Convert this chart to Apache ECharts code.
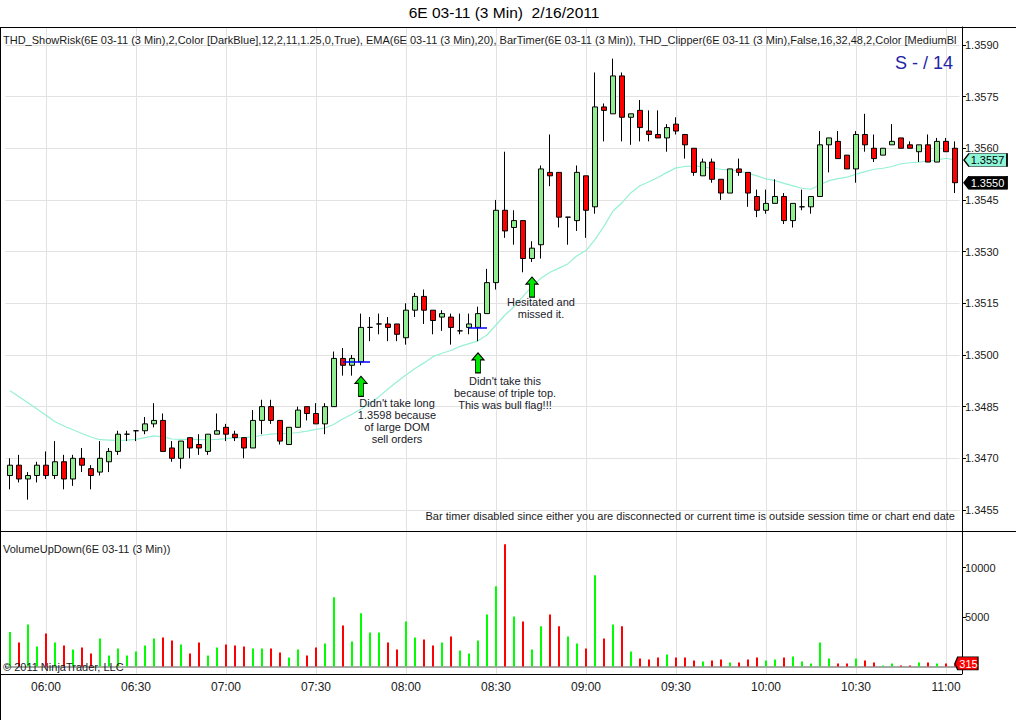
<!DOCTYPE html>
<html><head><meta charset="utf-8">
<script src="https://cdn.jsdelivr.net/npm/echarts@6/dist/echarts.min.js"></script>
<style>html,body{margin:0;padding:0;background:#fff}#c{width:1016px;height:720px}</style>
</head><body><div id="c"></div>
<script>
const times = ['05:48','05:51','05:54','05:57',
'06:00','06:03','06:06','06:09','06:12','06:15','06:18','06:21','06:24','06:27',
'06:30','06:33','06:36','06:39','06:42','06:45','06:48','06:51','06:54','06:57',
'07:00','07:03','07:06','07:09','07:12','07:15','07:18','07:21','07:24','07:27',
'07:30','07:33','07:36','07:39','07:42','07:45','07:48','07:51','07:54','07:57',
'08:00','08:03','08:06','08:09','08:12','08:15','08:18','08:21','08:24','08:27',
'08:30','08:33','08:36','08:39','08:42','08:45','08:48','08:51','08:54','08:57',
'09:00','09:03','09:06','09:09','09:12','09:15','09:18','09:21','09:24','09:27',
'09:30','09:33','09:36','09:39','09:42','09:45','09:48','09:51','09:54','09:57',
'10:00','10:03','10:06','10:09','10:12','10:15','10:18','10:21','10:24','10:27',
'10:30','10:33','10:36','10:39','10:42','10:45','10:48','10:51','10:54','10:57',
'11:00','11:03'];
const opens = [1.3465,1.3468,1.3464,1.3465,1.3468,1.3465,1.3469,1.3464,1.3470,1.3467,
1.3466,1.3469,1.3472,1.3477,1.3478,1.3478,1.3480,1.3481,1.3473,1.3470,
1.3476,1.3474,1.3472,1.3477,1.3479,1.3477,1.3476,1.3473,1.3481,1.3485,
1.3481,1.3474,1.3479,1.3485,1.3483,1.3480,1.3485,1.3499,1.3497,1.3498,
1.3508,1.3509,1.3509,1.3509,1.3505,1.3513,1.3517,1.3513,1.3511,1.3511,
1.3507,1.3508,1.3508,1.3512,1.3521,1.3542,1.3537,1.3539,1.3528,1.3532,
1.3553,1.3553,1.3540,1.3539,1.3552,1.3543,1.3572,1.3570,1.3581,1.3569,
1.3571,1.3565,1.3564,1.3563,1.3567,1.3564,1.3560,1.3552,1.3556,1.3551,
1.3547,1.3554,1.3553,1.3546,1.3542,1.3544,1.3546,1.3539,1.3543,1.3543,
1.3546,1.3561,1.3562,1.3558,1.3554,1.3564,1.3560,1.3558,1.3561,1.3563,
1.3561,1.3559,1.3561,1.3556,1.3562,1.3560];
const highs = [1.3470,1.3471,1.3466,1.3469,1.3472,1.3475,1.3471,1.3471,1.3473,1.3468,
1.3475,1.3473,1.3478,1.3478,1.3478,1.3482,1.3486,1.3483,1.3475,1.3475,
1.3476,1.3477,1.3477,1.3483,1.3480,1.3478,1.3476,1.3484,1.3487,1.3487,
1.3481,1.3479,1.3485,1.3485,1.3486,1.3486,1.3501,1.3502,1.3500,1.3512,
1.3511,1.3512,1.3511,1.3509,1.3515,1.3518,1.3519,1.3513,1.3513,1.3512,
1.3512,1.3512,1.3514,1.3525,1.3545,1.3559,1.3542,1.3539,1.3533,1.3555,
1.3564,1.3553,1.3540,1.3555,1.3552,1.3582,1.3573,1.3586,1.3582,1.3570,
1.3574,1.3571,1.3571,1.3567,1.3569,1.3564,1.3560,1.3557,1.3557,1.3551,
1.3554,1.3557,1.3553,1.3548,1.3548,1.3551,1.3547,1.3544,1.3548,1.3546,
1.3565,1.3563,1.3565,1.3558,1.3565,1.3570,1.3564,1.3560,1.3567,1.3563,
1.3562,1.3561,1.3564,1.3563,1.3563,1.3562];
const lows = [1.3461,1.3463,1.3458,1.3463,1.3464,1.3464,1.3461,1.3462,1.3466,1.3461,
1.3465,1.3466,1.3471,1.3475,1.3475,1.3477,1.3479,1.3472,1.3469,1.3467,
1.3470,1.3471,1.3471,1.3477,1.3475,1.3475,1.3470,1.3473,1.3477,1.3480,
1.3474,1.3474,1.3479,1.3481,1.3480,1.3477,1.3485,1.3494,1.3494,1.3497,
1.3504,1.3506,1.3504,1.3504,1.3503,1.3511,1.3509,1.3506,1.3507,1.3503,
1.3506,1.3506,1.3504,1.3512,1.3519,1.3534,1.3532,1.3524,1.3527,1.3528,
1.3549,1.3537,1.3532,1.3536,1.3534,1.3541,1.3562,1.3570,1.3562,1.3561,
1.3562,1.3562,1.3563,1.3559,1.3564,1.3557,1.3552,1.3552,1.3550,1.3545,
1.3547,1.3552,1.3543,1.3540,1.3541,1.3544,1.3538,1.3537,1.3542,1.3541,
1.3546,1.3553,1.3557,1.3554,1.3550,1.3559,1.3556,1.3558,1.3561,1.3560,
1.3560,1.3556,1.3556,1.3556,1.3559,1.3547];
const closes = [1.3468,1.3464,1.3465,1.3468,1.3465,1.3469,1.3464,1.3470,1.3468,1.3465,
1.3470,1.3472,1.3477,1.3477,1.3478,1.3480,1.3481,1.3472,1.3470,1.3475,
1.3473,1.3473,1.3477,1.3478,1.3477,1.3476,1.3473,1.3481,1.3485,1.3481,
1.3475,1.3479,1.3484,1.3483,1.3480,1.3485,1.3499,1.3497,1.3499,1.3508,
1.3508,1.3509,1.3508,1.3506,1.3513,1.3517,1.3513,1.3510,1.3512,1.3508,
1.3507,1.3509,1.3512,1.3521,1.3542,1.3536,1.3539,1.3528,1.3531,1.3554,
1.3552,1.3540,1.3540,1.3553,1.3542,1.3572,1.3571,1.3581,1.3569,1.3570,
1.3566,1.3564,1.3563,1.3566,1.3565,1.3561,1.3553,1.3556,1.3551,1.3547,
1.3554,1.3553,1.3547,1.3542,1.3544,1.3546,1.3539,1.3544,1.3543,1.3546,
1.3561,1.3563,1.3557,1.3554,1.3564,1.3561,1.3557,1.3560,1.3562,1.3560,
1.3560,1.3561,1.3556,1.3562,1.3559,1.3550];
const volumes = [3480,2430,4260,2030,3350,2430,2130,1720,1930,1320,
2840,1120,1830,1120,1520,2130,2840,2940,2640,2230,
1320,2430,1120,1930,2230,2130,2030,1830,1830,1830,
1420,910,1720,1120,1930,2330,7000,4160,2540,5380,
3450,3450,2430,1720,4560,2940,2740,2130,2430,3040,
1620,1320,2640,5270,8110,12370,5070,4560,1720,4060,
5270,4060,3040,2330,1830,9230,2840,4260,4060,1520,
810,710,910,1220,910,910,610,510,610,710,
400,400,710,910,610,710,910,1010,510,300,
2430,810,300,300,810,610,400,100,300,100,
100,400,400,300,300,315];
const ema20 = [1.34896,1.34879,1.34861,1.34843,1.34825,1.34806,1.34794,1.34783,1.34772,1.34762,
1.34754,1.34753,1.34752,1.34753,1.34755,1.34760,1.34765,1.34762,1.34756,1.34755,
1.34755,1.34754,1.34754,1.34755,1.34757,1.34760,1.34760,1.34762,1.34767,1.34770,
1.34772,1.34772,1.34775,1.34779,1.34784,1.34788,1.34799,1.34815,1.34828,1.34843,
1.34860,1.34879,1.34901,1.34922,1.34942,1.34961,1.34977,1.34995,1.35005,1.35013,
1.35025,1.35033,1.35041,1.35058,1.35087,1.35116,1.35140,1.35170,1.35199,1.35223,
1.35240,1.35252,1.35265,1.35288,1.35303,1.35335,1.35374,1.35418,1.35442,1.35471,
1.35491,1.35503,1.35515,1.35530,1.35543,1.35547,1.35549,1.35546,1.35542,1.35539,
1.35537,1.35534,1.35527,1.35520,1.35511,1.35506,1.35498,1.35491,1.35484,1.35481,
1.35494,1.35506,1.35512,1.35516,1.35525,1.35532,1.35539,1.35542,1.35547,1.35555,
1.35558,1.35560,1.35563,1.35566,1.35571,1.35566];
const priceTicks = [1.3455,1.3470,1.3485,1.3500,1.3515,1.3530,1.3545,1.3560,1.3575,1.3590];
const volumeTicks = [5000,10000];
const gridTimes = ['06:00','06:30','07:00','07:30','08:00','08:30','09:00','09:30','10:00','10:30','11:00'];
const riskLines = [
  {from:'07:39', to:'07:48', price:1.3498},
  {from:'08:21', to:'08:27', price:1.3508}
];
const arrows = [
  {time:'07:45', price:1.34909},
  {time:'08:24', price:1.34977},
  {time:'08:42', price:1.35197}
];
const notes = [
  {time:'07:57', price:1.34808, text:"Didn't take long\n1.3598 because\nof large DOM\nsell orders"},
  {time:'08:33', price:1.34891, text:"Didn't take this\nbecause of triple top.\nThis was bull flag!!!"},
  {time:'08:45', price:1.35136, text:"Hesitated and\nmissed it."}
];
const titleText = '6E 03-11 (3 Min)  2/16/2011';
const indicatorText = 'THD_ShowRisk(6E 03-11 (3 Min),2,Color [DarkBlue],12,2,11,1.25,0,True), EMA(6E 03-11 (3 Min),20), BarTimer(6E 03-11 (3 Min)), THD_Clipper(6E 03-11 (3 Min),False,16,32,48,2,Color [MediumBlue])';

const FONT = '"Liberation Sans", Arial, sans-serif';
const chart = echarts.init(document.getElementById('c'), null, {renderer:'svg', width:1016, height:720});
const isHalfHour = (i, v) => v.slice(3) === '00' || v.slice(3) === '30';
const candleData = times.map((t, i) => [opens[i], closes[i], lows[i], highs[i]]);
const volData = volumes.map((v, i) => ({value:v, itemStyle:{color: closes[i] >= opens[i] ? '#00ff00' : '#ff0000'}}));
const lastTime = times[times.length - 1];
const lastEma = ema20[ema20.length - 1];
const lastClose = closes[closes.length - 1];
const lastVol = volumes[volumes.length - 1];
const arrowPath = 'path://M6,0 L12,7 L8.5,7 L8.5,20 L3.5,20 L3.5,7 L0,7 Z';
const tagPath = 'path://M0,6.5 L5,0 L43,0 L43,13 L5,13 Z';
const gridColor = '#e2e2e2';

function tag(value, text, fill, textColor, size, offsetX) {
  return {coord:[lastTime, value], symbol:tagPath, symbolSize:size, symbolKeepAspect:false,
    symbolOffset:[offsetX, 0],
    itemStyle:{color:fill, borderColor:'#000', borderWidth:1},
    label:{show:true, position:'inside', offset:[2, 0.5], formatter:text, color:textColor,
      fontSize:11, fontFamily:FONT}};
}

const option = {
  animation:false,
  backgroundColor:'#fff',
  textStyle:{fontFamily:FONT},
  grid:[
    {left:5.5, right:56.5, top:27, height:504},
    {left:5.5, right:56.5, top:532, height:142}
  ],
  xAxis:[
    {type:'category', gridIndex:0, data:times, boundaryGap:true,
     axisLine:{show:false}, axisTick:{show:false}, axisLabel:{show:false}, splitLine:{show:false}},
    {type:'category', gridIndex:1, data:times, boundaryGap:true,
     axisLine:{show:true, lineStyle:{color:'#000', width:1}},
     axisTick:{show:true, alignWithLabel:true, interval:isHalfHour, length:4, lineStyle:{color:'#000'}},
     axisLabel:{interval:isHalfHour, color:'#1a1a1a', fontSize:12, margin:7, fontFamily:FONT},
     splitLine:{show:false}}
  ],
  yAxis:[
    {type:'value', gridIndex:0, position:'right', offset:2.5, min:1.34489, max:1.35952,
     axisLine:{show:true, lineStyle:{color:'#000', width:1}},
     axisTick:{show:true, length:4, customValues:priceTicks, lineStyle:{color:'#000'}},
     axisLabel:{customValues:priceTicks, formatter:v => v.toFixed(4), color:'#1a1a1a', fontSize:11, margin:3, fontFamily:FONT},
     splitLine:{show:true, lineStyle:{color:gridColor, width:1}}},
    {type:'value', gridIndex:1, position:'right', offset:2.5, min:-760, max:13610,
     axisLine:{show:true, lineStyle:{color:'#000', width:1}},
     axisTick:{show:true, length:4, customValues:volumeTicks, lineStyle:{color:'#000'}},
     axisLabel:{customValues:volumeTicks, formatter:v => String(Math.round(v)), color:'#1a1a1a', fontSize:11, margin:3, fontFamily:FONT},
     splitLine:{show:false}}
  ],
  series:[
    {type:'line', name:'vgrid-main', xAxisIndex:0, yAxisIndex:0, data:[], z:1, silent:true,
     markLine:{z:1, precision:6, symbol:['none','none'], silent:true, animation:false, label:{show:false},
       lineStyle:{color:gridColor, width:1, type:'solid'},
       data:gridTimes.map(t => ({xAxis:t}))}},
    {type:'line', name:'vgrid-vol', xAxisIndex:1, yAxisIndex:1, data:[], z:1, silent:true,
     markLine:{z:1, precision:6, symbol:['none','none'], silent:true, animation:false, label:{show:false},
       lineStyle:{color:gridColor, width:1, type:'solid'},
       data:gridTimes.map(t => ({xAxis:t})).concat([{yAxis:0, lineStyle:{color:'#a8a8a8', width:2}}])}},
    {type:'line', name:'EMA', xAxisIndex:0, yAxisIndex:0, data:ema20, z:2, symbol:'none', silent:true,
     lineStyle:{color:'#96f0d6', width:1.2}},
    {type:'candlestick', name:'6E', xAxisIndex:0, yAxisIndex:0, data:candleData, z:3, barWidth:6,
     itemStyle:{color:'#90ee90', color0:'#ff0000', borderColor:'#000', borderColor0:'#000', borderWidth:1},
     markLine:{z:6, precision:6, symbol:['none','none'], silent:true, animation:false,
       data:riskLines.map(r => [{coord:[r.from, r.price]}, {coord:[r.to, r.price]}]),
       lineStyle:{color:'#0000ff', width:1.5, type:'solid'}, label:{show:false}},
     markPoint:{z:6, animation:false, silent:true,
       data:arrows.map(a => ({coord:[a.time, a.price], symbol:arrowPath, symbolSize:[12,20],
           itemStyle:{color:'#00e600', borderColor:'#000', borderWidth:1}, label:{show:false}}))
         .concat(notes.map(n => ({coord:[n.time, n.price], symbol:'rect', symbolSize:[1,1],
           itemStyle:{color:'rgba(0,0,0,0)'},
           label:{show:true, position:'inside', formatter:n.text, color:'#1a1a2a', fontSize:11,
             lineHeight:12, align:'center', fontFamily:FONT}})))}},
    {type:'line', name:'PriceTags', xAxisIndex:0, yAxisIndex:0, data:[], z:8, silent:true,
     markPoint:{z:8, animation:false, silent:true,
       data:[
         tag(lastEma, lastEma.toFixed(4), '#8ef5d6', '#000', [43,13], 30.5),
         tag(lastClose, lastClose.toFixed(4), '#000', '#fff', [43,13], 30.5)
       ]}},
    {type:'bar', name:'Volume', xAxisIndex:1, yAxisIndex:1, data:volData, barWidth:2, z:3,
     markPoint:{z:8, animation:false, silent:true,
       data:[{coord:[lastTime, lastVol], symbol:tagPath, symbolSize:[23,13], symbolKeepAspect:false,
         symbolOffset:[11.5, 0], itemStyle:{color:'#ff0000', borderColor:'#000', borderWidth:1},
         label:{show:true, position:'inside', offset:[2, 0.5], formatter:String(lastVol), color:'#fff',
           fontSize:11, fontFamily:FONT}}]}}
  ],
  graphic:[
    {type:'line', silent:true, z:10, shape:{x1:0, y1:27.5, x2:1016, y2:27.5}, style:{stroke:'#000', lineWidth:1}},
    {type:'line', silent:true, z:10, shape:{x1:0, y1:531.5, x2:1016, y2:531.5}, style:{stroke:'#000', lineWidth:1}},
    {type:'line', silent:true, z:10, shape:{x1:0, y1:674.5, x2:962, y2:674.5}, style:{stroke:'#000', lineWidth:1}},
    {type:'line', silent:true, z:10, shape:{x1:0.5, y1:27, x2:0.5, y2:720}, style:{stroke:'#000', lineWidth:1}},
    {type:'text', silent:true, z:10, x:504, y:12, style:{text:titleText, font:'15.5px ' + FONT, fill:'#000', textAlign:'center', textVerticalAlign:'middle'}},
    {type:'text', silent:true, z:10, x:3, y:40, style:{text:indicatorText, font:'11px ' + FONT, fill:'#1a1a1a', textVerticalAlign:'middle', width:958, overflow:'truncate', ellipsis:''}},
    {type:'text', silent:true, z:10, x:953, y:63, style:{text:'S - / 14', font:'18px ' + FONT, fill:'#2323a6', textAlign:'right', textVerticalAlign:'middle'}},
    {type:'text', silent:true, z:10, x:955, y:516, style:{text:'Bar timer disabled since either you are disconnected or current time is outside session time or chart end date', font:'11px ' + FONT, fill:'#1a1a1a', textAlign:'right', textVerticalAlign:'middle'}},
    {type:'text', silent:true, z:10, x:3, y:549, style:{text:'VolumeUpDown(6E 03-11 (3 Min))', font:'11px ' + FONT, fill:'#1a1a1a', textVerticalAlign:'middle'}},
    {type:'text', silent:true, z:10, x:3, y:667, style:{text:'\u00a9 2011 NinjaTrader, LLC', font:'11px ' + FONT, fill:'#1a1a1a', textVerticalAlign:'middle'}}
  ]
};
chart.setOption(option);
</script></body></html>
